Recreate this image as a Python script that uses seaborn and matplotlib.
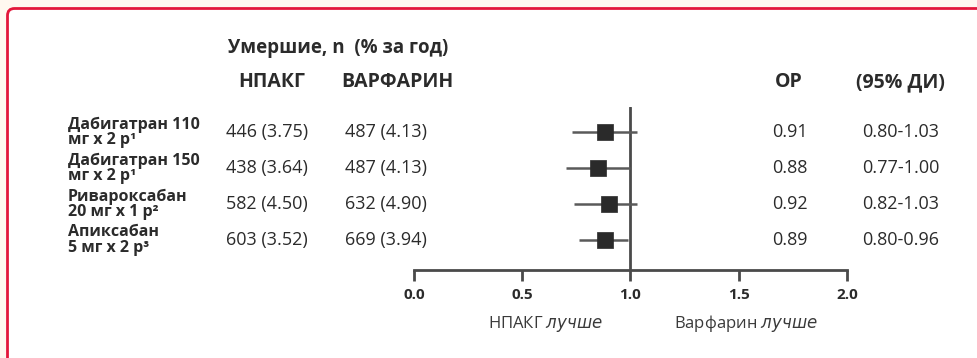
import numpy as np
import pandas as pd
import matplotlib
matplotlib.use('Agg')
import matplotlib.pyplot as plt
import matplotlib.transforms as mtransforms
from matplotlib.patches import FancyBboxPatch
import seaborn as sns

# %% dados
preparados = ['Дабигатран 110\nмг x 2 р¹', 'Дабигатран 150\nмг x 2 р¹',
              'Ривароксабан\n20 мг x 1 р²', 'Апиксабан\n5 мг x 2 р³']
npakg = ['446 (3.75)', '438 (3.64)', '582 (4.50)', '603 (3.52)']
varfarin = ['487 (4.13)', '487 (4.13)', '632 (4.90)', '669 (3.94)']
or_texto = ['0.91', '0.88', '0.92', '0.89']
di_texto = ['0.80-1.03', '0.77-1.00', '0.82-1.03', '0.80-0.96']
# posicoes desenhadas na figura original (o quadrado e a linha do IC)
or_pos = [0.88, 0.85, 0.90, 0.88]
ic_inf = [0.73, 0.70, 0.74, 0.76]
ic_sup = [1.03, 1.00, 1.03, 0.99]
xticks = [0.0, 0.5, 1.0, 1.5, 2.0]

df = pd.DataFrame({'linha': range(len(preparados)), 'OR': or_pos,
                   'inf': ic_inf, 'sup': ic_sup})

# %%
sns.set_style('white')
plt.rcParams['font.family'] = ['Open Sans', 'DejaVu Sans']
W, H = 978, 358
fig = plt.figure(figsize=(W / 100, H / 100), dpi=100, facecolor='#fff8f0')

# moldura vermelha arredondada
moldura = FancyBboxPatch((7.5, -20), W + 20, H + 20 - 8.5,
                         boxstyle='round,pad=0,rounding_size=7',
                         transform=None, facecolor='white',
                         edgecolor='#e3173b', linewidth=2, zorder=-5)
fig.patches.append(moldura)

def fx(px):
    return px / W

def fy(py):
    return 1 - py / H

ax = fig.add_axes([fx(414), fy(270), fx(847) - fx(414), (270 - 107) / H])
ax.set_facecolor('none')
cinza = '#4a4a4a'
texto_cor = '#2b2b2b'

ax.hlines(df['linha'], df['inf'], df['sup'], color='#5a5a5a', linewidth=1.8, zorder=2)
sns.scatterplot(data=df, x='OR', y='linha', marker='s', s=125, color='#2a2a2a',
                edgecolor='#2a2a2a', linewidth=0.5, ax=ax, zorder=3, legend=False)
ax.axvline(1.0, color=cinza, linewidth=2, zorder=1)

ax.set_xlim(0, 2)
ax.set_ylim(3 + 30 / 36, -25 / 36)
ax.set_xticks(xticks)
ax.set_xticklabels([f'{t:.1f}' for t in xticks], fontsize=11, fontweight='bold', color=texto_cor)
ax.set_yticks([])
ax.set_xlabel('')
ax.set_ylabel('')
ax.tick_params(axis='x', direction='out', length=8, width=2, color=cinza, pad=5, bottom=True)
for lado in ['top', 'right', 'left']:
    ax.spines[lado].set_visible(False)
ax.spines['bottom'].set_color(cinza)
ax.spines['bottom'].set_linewidth(2)

# %% colunas de texto
trans = mtransforms.blended_transform_factory(fig.transFigure, ax.transData)
for i in range(len(preparados)):
    ax.text(fx(68), i, preparados[i], transform=trans, ha='left', va='center',
            fontsize=11.5, fontweight='bold', color=texto_cor, linespacing=0.92)
    ax.text(fx(267), i, npakg[i], transform=trans, ha='center', va='center',
            fontsize=13, color=texto_cor)
    ax.text(fx(386), i, varfarin[i], transform=trans, ha='center', va='center',
            fontsize=13, color=texto_cor)
    ax.text(fx(790), i, or_texto[i], transform=trans, ha='center', va='center',
            fontsize=13, color=texto_cor)
    ax.text(fx(901), i, di_texto[i], transform=trans, ha='center', va='center',
            fontsize=13, color=texto_cor)

fig.text(fx(228), fy(48), 'Умершие, n  (% за год)', ha='left', va='center',
         fontsize=13.5, fontweight='bold', color=texto_cor)
fig.text(fx(272), fy(82), 'НПАКГ', ha='center', va='center', fontsize=14,
         fontweight='bold', color=texto_cor)
fig.text(fx(397), fy(82), 'ВАРФАРИН', ha='center', va='center', fontsize=14,
         fontweight='bold', color=texto_cor)
fig.text(fx(789), fy(82), 'ОР', ha='center', va='center', fontsize=14,
         fontweight='bold', color=texto_cor)
fig.text(fx(900), fy(82), '(95% ДИ)', ha='center', va='center', fontsize=14,
         fontweight='bold', color=texto_cor)

fig.text(fx(545), fy(324), 'НПАКГ $\\it{лучше}$', ha='center', va='center',
         fontsize=12, color='#3a3a3a')
fig.text(fx(746), fy(324), 'Варфарин $\\it{лучше}$', ha='center', va='center',
         fontsize=12, color='#3a3a3a')

fig.savefig('out.png', dpi=100, facecolor=fig.get_facecolor())
